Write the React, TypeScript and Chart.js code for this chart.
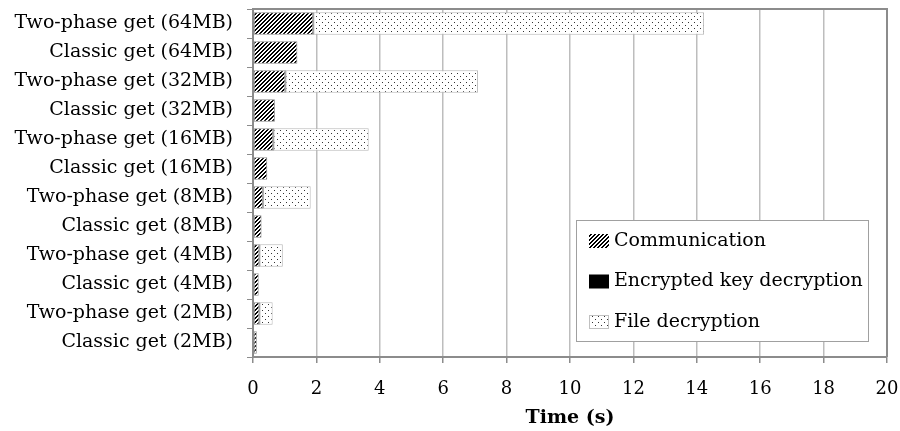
import React, { useEffect, useRef } from "react";
import { Chart, registerables } from "chart.js";

Chart.register(...registerables);

const categories = [
  "Two-phase get (64MB)",
  "Classic get (64MB)",
  "Two-phase get (32MB)",
  "Classic get (32MB)",
  "Two-phase get (16MB)",
  "Classic get (16MB)",
  "Two-phase get (8MB)",
  "Classic get (8MB)",
  "Two-phase get (4MB)",
  "Classic get (4MB)",
  "Two-phase get (2MB)",
  "Classic get (2MB)",
];

const seriesNames = ["Communication", "Encrypted key decryption", "File decryption"];

const communication = [1.9, 1.4, 1.02, 0.69, 0.64, 0.45, 0.31, 0.27, 0.2, 0.18, 0.2, 0.12];
const keyDecryption = [0.01, null, 0.01, null, 0.01, null, 0.01, null, 0.01, null, 0.01, null];
const fileDecryption = [12.32, null, 6.07, null, 3.0, null, 1.5, null, 0.73, null, 0.41, null];

const xMin = 0;
const xMax = 20;
const xStep = 2;
const xTitle = "Time (s)";

const FONT = "'DejaVu Serif', serif";

function makeHatch(): CanvasPattern {
  const t = document.createElement("canvas");
  t.width = 4;
  t.height = 4;
  const c = t.getContext("2d")!;
  c.fillStyle = "#ffffff";
  c.fillRect(0, 0, 4, 4);
  c.fillStyle = "#000000";
  for (let y = 0; y < 4; y++) {
    for (let x = 0; x < 4; x++) {
      if ((x + y) % 4 === 0 || (x + y) % 4 === 1) c.fillRect(x, y, 1, 1);
    }
  }
  return document.createElement("canvas").getContext("2d")!.createPattern(t, "repeat")!;
}

function makeDots(): CanvasPattern {
  const t = document.createElement("canvas");
  t.width = 6;
  t.height = 6;
  const c = t.getContext("2d")!;
  c.fillStyle = "#ffffff";
  c.fillRect(0, 0, 6, 6);
  c.fillStyle = "#333333";
  c.fillRect(1, 1, 1, 1);
  c.fillRect(4, 4, 1, 1);
  return document.createElement("canvas").getContext("2d")!.createPattern(t, "repeat")!;
}

export default function App() {
  const ref = useRef<HTMLCanvasElement>(null);

  useEffect(() => {
    document.body.style.margin = "0";
    const canvas = ref.current!;
    const hatch = makeHatch();
    const dots = makeDots();

    Chart.defaults.font.family = FONT;
    Chart.defaults.color = "#000000";

    const framePlugin = {
      id: "frame",
      beforeDatasetsDraw(chart: any) {
        const { ctx, chartArea: a } = chart;
        ctx.save();
        ctx.strokeStyle = "#8c8c8c";
        ctx.lineWidth = 2;
        ctx.beginPath();
        ctx.moveTo(a.left, a.top);
        ctx.lineTo(a.right, a.top);
        ctx.lineTo(a.right, a.bottom);
        ctx.stroke();
        ctx.restore();
      },
    };

    const legendPlugin = {
      id: "boxLegend",
      afterDraw(chart: any) {
        const { ctx, chartArea: a } = chart;
        const w = 292;
        const h = 121;
        const right = a.right - 19;
        const bottom = a.bottom - 16;
        const left = right - w;
        const top = bottom - h;
        ctx.save();
        ctx.fillStyle = "#ffffff";
        ctx.fillRect(left, top, w, h);
        ctx.strokeStyle = "#a0a0a0";
        ctx.lineWidth = 1;
        ctx.strokeRect(left + 0.5, top + 0.5, w, h);
        chart.data.datasets.forEach((ds: any, i: number) => {
          const cy = top + 21 + i * 40.5;
          ctx.fillStyle = ds.backgroundColor;
          ctx.fillRect(left + 13, cy - 7, 20, 14);
          if (i === 2) {
            ctx.strokeStyle = "#c0c0c0";
            ctx.strokeRect(left + 13.5, cy - 6.5, 19, 13);
          }
          ctx.fillStyle = "#000000";
          ctx.font = `19px ${FONT}`;
          ctx.textBaseline = "middle";
          ctx.textAlign = "left";
          ctx.fillText(ds.label, left + 38, cy);
        });
        ctx.restore();
      },
    };

    const chart = new Chart(canvas, {
      type: "bar",
      data: {
        labels: categories,
        datasets: [
          {
            label: seriesNames[0],
            data: communication,
            backgroundColor: hatch,
            borderColor: "#8a8a8a",
            borderWidth: 1,
            borderSkipped: false,
          },
          {
            label: seriesNames[1],
            data: keyDecryption,
            backgroundColor: "#000000",
            borderWidth: 0,
          },
          {
            label: seriesNames[2],
            data: fileDecryption,
            backgroundColor: dots,
            borderColor: "#b8b8b8",
            borderWidth: 1,
            borderSkipped: false,
          },
        ] as any,
      },
      options: {
        indexAxis: "y",
        responsive: false,
        animation: false,
        layout: { padding: { left: 0, right: 13, top: 9, bottom: 0 } },
        datasets: { bar: { barPercentage: 0.77, categoryPercentage: 1 } },
        plugins: {
          legend: { display: false },
          tooltip: { enabled: false },
        },
        scales: {
          x: {
            stacked: true,
            min: xMin,
            max: xMax,
            ticks: {
              stepSize: xStep,
              font: { size: 18, family: FONT },
              color: "#000000",
              padding: 16,
            },
            grid: {
              color: "#bdbdbd",
              lineWidth: 1.5,
              tickColor: "#8c8c8c",
              tickLength: 6,
            },
            border: { display: true, color: "#8c8c8c", width: 2 },
            title: {
              display: true,
              text: xTitle,
              font: { size: 19, weight: "bold", family: FONT },
              color: "#000000",
              padding: { top: 0, bottom: 2 },
            },
            afterFit(scale: any) {
              scale.height = 74;
              scale.paddingLeft = 0;
              scale.paddingRight = 0;
            },
          },
          y: {
            stacked: true,
            ticks: {
              font: { size: 19, family: FONT },
              color: "#000000",
              padding: 14,
              autoSkip: false,
            },
            grid: {
              drawOnChartArea: false,
              drawTicks: true,
              tickLength: 6,
              color: "#8c8c8c",
              offset: true,
            },
            border: { display: true, color: "#8c8c8c", width: 2 },
            afterFit(scale: any) {
              scale.width = 253;
              scale.paddingTop = 0;
              scale.paddingBottom = 0;
            },
          },
        },
      } as any,
      plugins: [framePlugin, legendPlugin],
    });

    return () => chart.destroy();
  }, []);

  return <canvas ref={ref} width={900} height={431} style={{ display: "block" }} />;
}
